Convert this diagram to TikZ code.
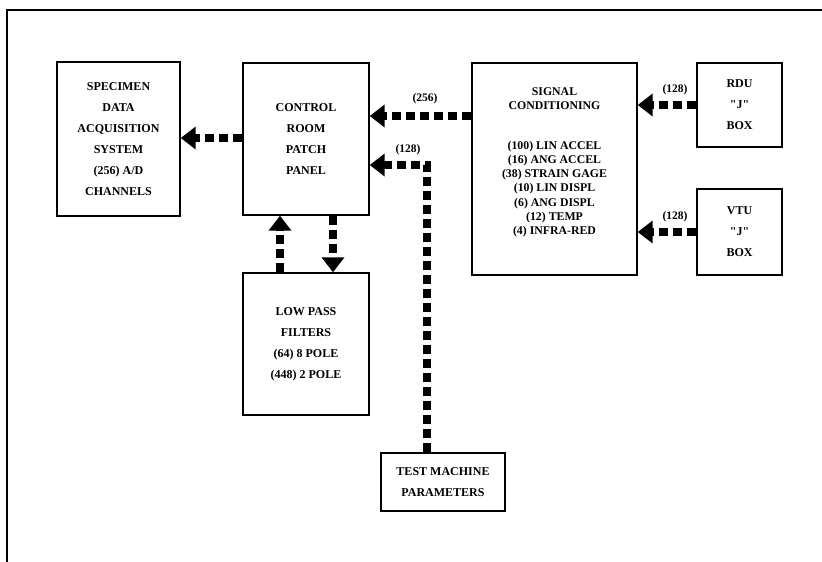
\documentclass[tikz,border=0pt]{standalone}
\usepackage{fontspec}
\setmainfont{Liberation Serif}
\newfontfamily\boxfont{Liberation Serif Bold}
\usetikzlibrary{arrows.meta}
\tikzset{
  blk/.style={draw, line width=1.4pt, minimum width=#1, inner sep=0pt},
  txt/.style={font=\boxfont\fontsize{12}{21}\selectfont, align=center, inner sep=0pt},
  lst/.style={font=\boxfont\fontsize{11.8}{14.2}\selectfont, align=center, inner sep=0pt},
  lbl/.style={font=\boxfont\fontsize{11.5}{12}\selectfont, inner sep=0pt},
  bigarrow/.style={line width=8pt, dash pattern=on 9.5pt off 4.5pt,
    -{Triangle[length=15pt,width=22pt]}},
  frame/.style={line width=1.4pt}
}
\begin{document}
\begin{tikzpicture}[x=1pt,y=-1pt]
\useasboundingbox (0,0) rectangle (822,562);
% frame
\coordinate (fa) at (822,10);
\coordinate (fb) at (7,10);
\coordinate (fc) at (7,562);
\draw[frame] (fa) -- (fb) -- (fc);
% boxes
\node[blk=123pt, minimum height=154pt] (spec) at (118.5,139) {};
\node[blk=126pt, minimum height=152pt] (ctrl) at (306,139) {};
\node[blk=165pt, minimum height=212pt] (sig) at (554.5,169) {};
\node[blk=85pt, minimum height=84pt] (rdu) at (739.5,105) {};
\node[blk=85pt, minimum height=86pt] (vtu) at (739.5,232) {};
\node[blk=126pt, minimum height=142pt] (lpf) at (306,344) {};
\node[blk=124pt, minimum height=58pt] (test) at (443,482) {};
% texts
\node[txt] (spect) at (spec.center) {SPECIMEN\\DATA\\ACQUISITION\\SYSTEM\\(256) A/D\\CHANNELS};
\node[txt] (ctrlt) at (ctrl.center) {CONTROL\\ROOM\\PATCH\\PANEL};
\node[lst, anchor=north] (sigh) at (sig.north |- 0,87) {SIGNAL\\CONDITIONING};
\node[lst, anchor=north] (sigl) at (sig.north |- 0,141) {(100) LIN ACCEL\\(16) ANG ACCEL\\(38) STRAIN GAGE\\(10) LIN DISPL\\(6) ANG DISPL\\(12) TEMP\\(4) INFRA-RED};
\node[txt] (rdut) at (rdu.center) {RDU\\\textquotedbl J\textquotedbl\\BOX};
\node[txt] (vtut) at (vtu.center) {VTU\\\textquotedbl J\textquotedbl\\BOX};
\node[txt] (lpft) at (lpf.center) {LOW PASS\\FILTERS\\(64) 8 POLE\\(448) 2 POLE};
\node[txt] (testt) at (test.center) {TEST MACHINE\\PARAMETERS};
% connectors
\draw[bigarrow] (ctrl.west |- 0,138) -- (spec.east |- 0,138);
\draw[bigarrow] (sig.west |- 0,116) -- (ctrl.east |- 0,116);
\draw[bigarrow] (test.north -| 427,0) |- (ctrl.east |- 0,165);
\draw[bigarrow] (lpf.north -| 280,0) -- (ctrl.south -| 280,0);
\draw[bigarrow] (ctrl.south -| 333,0) -- (lpf.north -| 333,0);
\draw[bigarrow] (rdu.west |- 0,105) -- (sig.east |- 0,105);
\draw[bigarrow] (vtu.west |- 0,232) -- (sig.east |- 0,232);
% labels
\node[lbl] (l1) at (425,99) {(256)};
\node[lbl] (l2) at (408,150) {(128)};
\node[lbl] (l3) at (675,90) {(128)};
\node[lbl] (l4) at (675,217) {(128)};
\end{tikzpicture}
\end{document}
